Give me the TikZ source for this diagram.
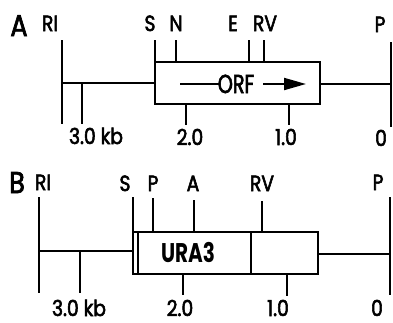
\documentclass[tikz,border=0pt]{standalone}
\usepackage{fontspec}
\setmainfont{Poppins}
\newfontfamily\labfont{Poppins}[FakeStretch=0.85,FakeBold=2.5]
\newfontfamily\genefont{Poppins}[FakeStretch=0.74]
\newfontfamily\orffont{Poppins}[FakeStretch=0.74,FakeBold=2.5]
\usetikzlibrary{arrows.meta}
\begin{document}
\begin{tikzpicture}[x=1pt,y=-1pt,
  seg/.style={line width=1.7pt},
  lab/.style={inner sep=0pt,anchor=base,font=\labfont\fontsize{22}{22}\selectfont},
  panel/.style={inner sep=0pt,anchor=base,font=\labfont\fontsize{30}{30}\selectfont},
  gene/.style={inner sep=0pt,anchor=base,font=\genefont\bfseries\fontsize{27}{27}\selectfont},
  orf/.style={inner sep=0pt,anchor=base,font=\orffont\fontsize{26}{26}\selectfont}]
\useasboundingbox (0,0) rectangle (393,322);
% ---------- Panel A ----------
\node[panel] (pA) at (19,36) {A};
\node[lab] (aRI) at (50,31) {RI};
\node[lab] (aS) at (150,31) {S};
\node[lab] (aN) at (176,31) {N};
\node[lab] (aE) at (233,31) {E};
\node[lab] (aRV) at (265,31) {RV};
\node[lab] (aP) at (380,32) {P};
\node[lab] (a30) at (96,144) {3.0 kb};
\node[lab] (a20) at (190,145) {2.0};
\node[lab] (a10) at (286,145) {1.0};
\node[lab] (a0) at (381,146) {0};
\coordinate (aRIt) at (62,40); \coordinate (aRIb) at (62,124); \coordinate (aRIm) at (62,83);
\coordinate (aBl) at (155,83); \coordinate (a3t) at (82,83); \coordinate (a3b) at (82,124);
\coordinate (aSt) at (155,40);
\coordinate (aBoxNW) at (155,62); \coordinate (aBoxSE) at (320,104);
\coordinate (aNt) at (176,40); \coordinate (aNb) at (176,62);
\coordinate (aEt) at (249,40); \coordinate (aEb) at (249,62);
\coordinate (aRVt) at (264,40); \coordinate (aRVb) at (264,62);
\coordinate (a2t) at (186,104); \coordinate (a2b) at (186,125);
\coordinate (a1t) at (289,104); \coordinate (a1b) at (289,125);
\coordinate (aBr) at (320,84); \coordinate (aPm) at (391,84);
\coordinate (aPt) at (391,42); \coordinate (aPb) at (391,127);
\draw[seg] (aRIt) -- (aRIb);
\draw[seg] (aRIm) -- (aBl);
\draw[seg] (a3t) -- (a3b);
\draw[seg] (aSt) -- (aBoxNW);
\draw[seg] (aBoxNW) rectangle (aBoxSE);
\draw[seg] (aNt) -- (aNb);
\draw[seg] (aEt) -- (aEb);
\draw[seg] (aRVt) -- (aRVb);
\draw[seg] (a2t) -- (a2b);
\draw[seg] (a1t) -- (a1b);
\draw[seg] (aBr) -- (aPm);
\draw[seg] (aPt) -- (aPb);
\node[orf] (orf) at (236,93) {ORF};
\coordinate (aIn) at (180,84);
\coordinate (aOrfW) at (219,84);
\coordinate (aArS) at (263,84); \coordinate (aArE) at (306,84);
\draw[seg] (aIn) -- (aOrfW);
\draw[line width=2pt,-{Triangle[length=22pt,width=12pt]}] (aArS) -- (aArE);
% ---------- Panel B ----------
\node[panel] (pB) at (17,193) {B};
\node[lab] (bRI) at (43,190) {RI};
\node[lab] (bS) at (125,191) {S};
\node[lab] (bP) at (153,191) {P};
\node[lab] (bA) at (193,191) {A};
\node[lab] (bRV) at (262,191) {RV};
\node[lab] (bP2) at (378,190) {P};
\node[lab] (b30) at (79,316) {3.0 kb};
\node[lab] (b20) at (180,316) {2.0};
\node[lab] (b10) at (278,316) {1.0};
\node[lab] (b0) at (377,316) {0};
\coordinate (bRIt) at (39,197); \coordinate (bRIb) at (39,293); \coordinate (bRIm) at (39,251);
\coordinate (bBl) at (133,251); \coordinate (b3t) at (80,251); \coordinate (b3b) at (80,293);
\coordinate (bSt) at (133,197);
\coordinate (bBoxNW) at (133,232); \coordinate (bBoxSE) at (318,274);
\coordinate (bInT) at (138,232); \coordinate (bInB) at (138,274);
\coordinate (bPt) at (153,198); \coordinate (bPb) at (153,232);
\coordinate (bAt) at (194,200); \coordinate (bAb) at (194,232);
\coordinate (bDt) at (251,232); \coordinate (bDb) at (251,274);
\coordinate (bRVt) at (262,201); \coordinate (bRVb) at (262,232);
\coordinate (b2t) at (183,274); \coordinate (b2b) at (183,295);
\coordinate (b1t) at (287,274); \coordinate (b1b) at (287,296);
\coordinate (bBr) at (318,254); \coordinate (bPm) at (390,254);
\coordinate (bP2t) at (390,197); \coordinate (bP2b) at (390,295);
\draw[seg] (bRIt) -- (bRIb);
\draw[seg] (bRIm) -- (bBl);
\draw[seg] (b3t) -- (b3b);
\draw[seg] (bSt) -- (bBoxNW);
\draw[seg] (bBoxNW) rectangle (bBoxSE);
\draw[seg] (bInT) -- (bInB);
\draw[seg] (bPt) -- (bPb);
\draw[seg] (bAt) -- (bAb);
\draw[seg] (bDt) -- (bDb);
\draw[seg] (bRVt) -- (bRVb);
\draw[seg] (b2t) -- (b2b);
\draw[seg] (b1t) -- (b1b);
\draw[seg] (bBr) -- (bPm);
\draw[seg] (bP2t) -- (bP2b);
\node[gene] (ura) at (188,262) {URA3};
\end{tikzpicture}
\end{document}
